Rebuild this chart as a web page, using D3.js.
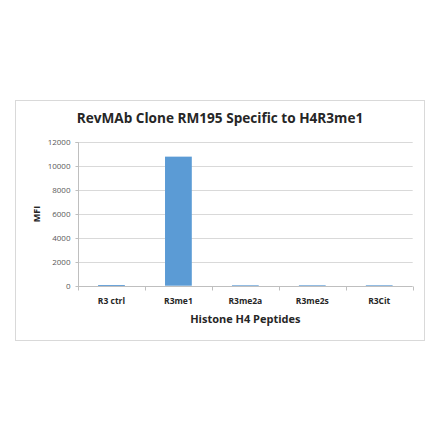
<!DOCTYPE html>
<html><head><meta charset="utf-8">
<script src="https://cdn.jsdelivr.net/npm/d3@7"></script>
<style>body{margin:0;background:#fff}svg{display:block}text{font-family:"Open Sans","Liberation Sans",sans-serif}</style>
</head><body><svg id="c" width="440" height="441"></svg>
<script>
const categories = ["R3 ctrl","R3me1","R3me2a","R3me2s","R3Cit"];
const values = [50,10800,30,30,30];
const yTicks = [0,2000,4000,6000,8000,10000,12000];

const svg = d3.select("#c");
svg.append("rect").attr("x",15.5).attr("y",100.5).attr("width",409).attr("height",240)
  .attr("fill","#fff").attr("stroke","#d9d9d9").attr("stroke-width",1);

const m = {left:78, right:412.7, top:142.3, bottom:285.7};
const x = d3.scaleBand().domain(categories).range([m.left,m.right]).paddingInner(0.6).paddingOuter(0.3);
const y = d3.scaleLinear().domain([0,12000]).range([m.bottom,m.top]);

// gridlines
svg.append("g").selectAll("line").data(yTicks.filter(d=>d>0)).join("line")
  .attr("x1",m.left).attr("x2",m.right).attr("y1",d=>Math.round(y(d))+0.5).attr("y2",d=>Math.round(y(d))+0.5)
  .attr("stroke","#d9d9d9");

// y axis
const ya = svg.append("g").attr("transform",`translate(${m.left+0.5},0.5)`)
  .call(d3.axisLeft(y).tickValues(yTicks).tickSize(3).tickPadding(5).tickFormat(d3.format("d")));
ya.select(".domain").attr("stroke","#bfbfbf").attr("d",`M-3,${Math.round(m.top)}H0V${Math.round(m.bottom)}`);
ya.selectAll(".tick line").attr("stroke","#bfbfbf");
ya.selectAll(".tick text").attr("fill","#595959").style("font-size","8px").style("font-family","'Open Sans',sans-serif");
ya.selectAll(".tick").attr("transform",d=>`translate(0,${Math.round(y(d))})`);

// bars
svg.append("g").selectAll("rect").data(values).join("rect")
  .attr("x",(d,i)=>x(categories[i])).attr("width",x.bandwidth())
  .attr("y",d=>y(d)).attr("height",d=>Math.max(1,m.bottom-y(d)))
  .attr("fill","#5b9bd5");

// x axis
const xa = svg.append("g").attr("transform",`translate(0,${Math.round(m.bottom)+0.5})`);
xa.append("line").attr("x1",m.left).attr("x2",m.right).attr("stroke","#bfbfbf");
const step = (m.right-m.left)/categories.length;
xa.selectAll("line.t").data(d3.range(categories.length+1)).join("line").attr("class","t")
  .attr("x1",i=>Math.round(m.left+i*step)+0.5).attr("x2",i=>Math.round(m.left+i*step)+0.5)
  .attr("y1",0).attr("y2",4).attr("stroke","#bfbfbf");
xa.selectAll("text").data(categories).join("text")
  .attr("x",d=>x(d)+x.bandwidth()/2).attr("y",17).attr("text-anchor","middle")
  .attr("fill","#262626").style("font-size","8.5px").style("font-weight","bold").text(d=>d);

// titles
svg.append("text").attr("x",220).attr("y",123).attr("text-anchor","middle")
  .style("font-size","13.6px").style("font-weight","bold").attr("fill","#262626")
  .text("RevMAb Clone RM195 Specific to H4R3me1");
svg.append("text").attr("x",(m.left+m.right)/2).attr("y",323).attr("text-anchor","middle")
  .style("font-size","11px").style("font-weight","bold").attr("fill","#262626")
  .text("Histone H4 Peptides");
svg.append("text").attr("transform",`translate(40,214) rotate(-90)`).attr("text-anchor","middle")
  .style("font-size","9px").style("font-weight","bold").attr("fill","#262626").text("MFI");
</script></body></html>
